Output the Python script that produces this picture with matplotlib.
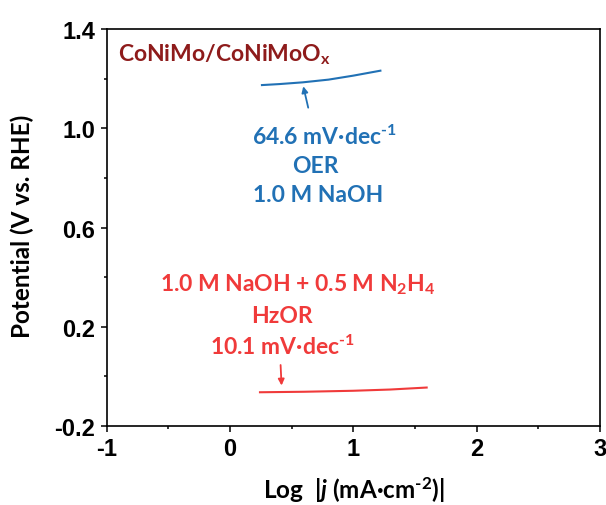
import numpy as np
import matplotlib
matplotlib.use('Agg')
import matplotlib.pyplot as plt

# Tafel data (log j vs potential)
oer_logj = [0.26, 0.40, 0.59, 0.80, 1.00, 1.22]
oer_pot = [1.174, 1.178, 1.185, 1.196, 1.212, 1.232]
hzor_logj = [0.244, 0.60, 1.00, 1.30, 1.595]
hzor_pot = [-0.064, -0.062, -0.058, -0.053, -0.045]

oer_slope = 64.6
hzor_slope = 10.1

xticks = [-1, 0, 1, 2, 3]
xminor = [-0.5, 0.5, 1.5, 2.5]
yticks = [-0.2, 0.2, 0.6, 1.0, 1.4]
yminor = [0.0, 0.4, 0.8, 1.2]

blue = '#2171B5'
red = '#F03A3A'
darkred = '#8E1B1B'

plt.rcParams['font.family'] = 'Liberation Sans'
plt.rcParams['font.weight'] = 'bold'
plt.rcParams['axes.unicode_minus'] = False
plt.rcParams['mathtext.fontset'] = 'custom'
plt.rcParams['mathtext.rm'] = 'Lato:bold'
plt.rcParams['mathtext.bf'] = 'Lato:bold'
plt.rcParams['mathtext.it'] = 'Lato:bold:italic'

fig = plt.figure(figsize=(6.06, 5.06), dpi=100)
ax = fig.add_axes([106.5 / 606, 79 / 506, (600 - 106.5) / 606, (427 - 30) / 506])

ax.plot(oer_logj, oer_pot, color=blue, lw=1.5)
ax.plot(hzor_logj, hzor_pot, color=red, lw=1.5)

ax.set_xlim(-1, 3)
ax.set_ylim(-0.2, 1.4)
ax.set_xticks(xticks)
ax.set_xticks(xminor, minor=True)
ax.set_yticks(yticks)
ax.set_yticks(yminor, minor=True)
ax.set_xticklabels([str(v) for v in xticks])
ax.set_yticklabels(['%.1f' % v for v in yticks])
ax.tick_params(which='both', direction='out', top=False, right=False, width=1.1)
ax.tick_params(which='major', length=4, labelsize=17, pad=4)
ax.tick_params(which='minor', length=2.5)
for s in ax.spines.values():
    s.set_linewidth(1.2)

tf = dict(family='Lato', fontweight='bold', fontsize=16.5)
sup = '$^{\\text{-%d}}$'

ax.text(-0.907, 1.275, 'CoNiMo/CoNiMoO$_\\mathregular{x}$', color=darkred,
        ha='left', va='baseline', **tf)

# OER annotation
ax.annotate('', xy=(0.59, 1.180), xytext=(0.64, 1.072),
            arrowprops=dict(arrowstyle='-|>', color=blue, lw=1.3, mutation_scale=9))
ax.text(0.765, 0.936, '%.1f mV·dec' % oer_slope + sup % 1, color=blue, ha='center', va='baseline', **tf)
ax.text(0.69, 0.825, 'OER', color=blue, ha='center', va='baseline', **tf)
ax.text(0.714, 0.708, '1.0 M NaOH', color=blue, ha='center', va='baseline', **tf)

# HzOR annotation
ax.text(0.554, 0.345, '1.0 M NaOH + 0.5 M N$_2$H$_4$', color=red, ha='center', va='baseline', **tf)
ax.text(0.422, 0.218, 'HzOR', color=red, ha='center', va='baseline', **tf)
ax.text(0.422, 0.090, '%.1f mV·dec' % hzor_slope + sup % 1, color=red, ha='center', va='baseline', **tf)
ax.annotate('', xy=(0.42, -0.048), xytext=(0.41, 0.057),
            arrowprops=dict(arrowstyle='-|>', color=red, lw=1.3, mutation_scale=9))

lf = dict(family='Lato', fontweight='bold', fontsize=17.5)
fig.text(22 / 606, 1 - 226 / 506, 'Potential (V vs. RHE)', rotation=90,
         ha='center', va='center', **lf)
fig.text(354 / 606, 1 - 490 / 506, 'Log  |$j$ (mA·cm' + sup % 2 + ')|',
         ha='center', va='center', **lf)

fig.savefig('out.png', dpi=100)
